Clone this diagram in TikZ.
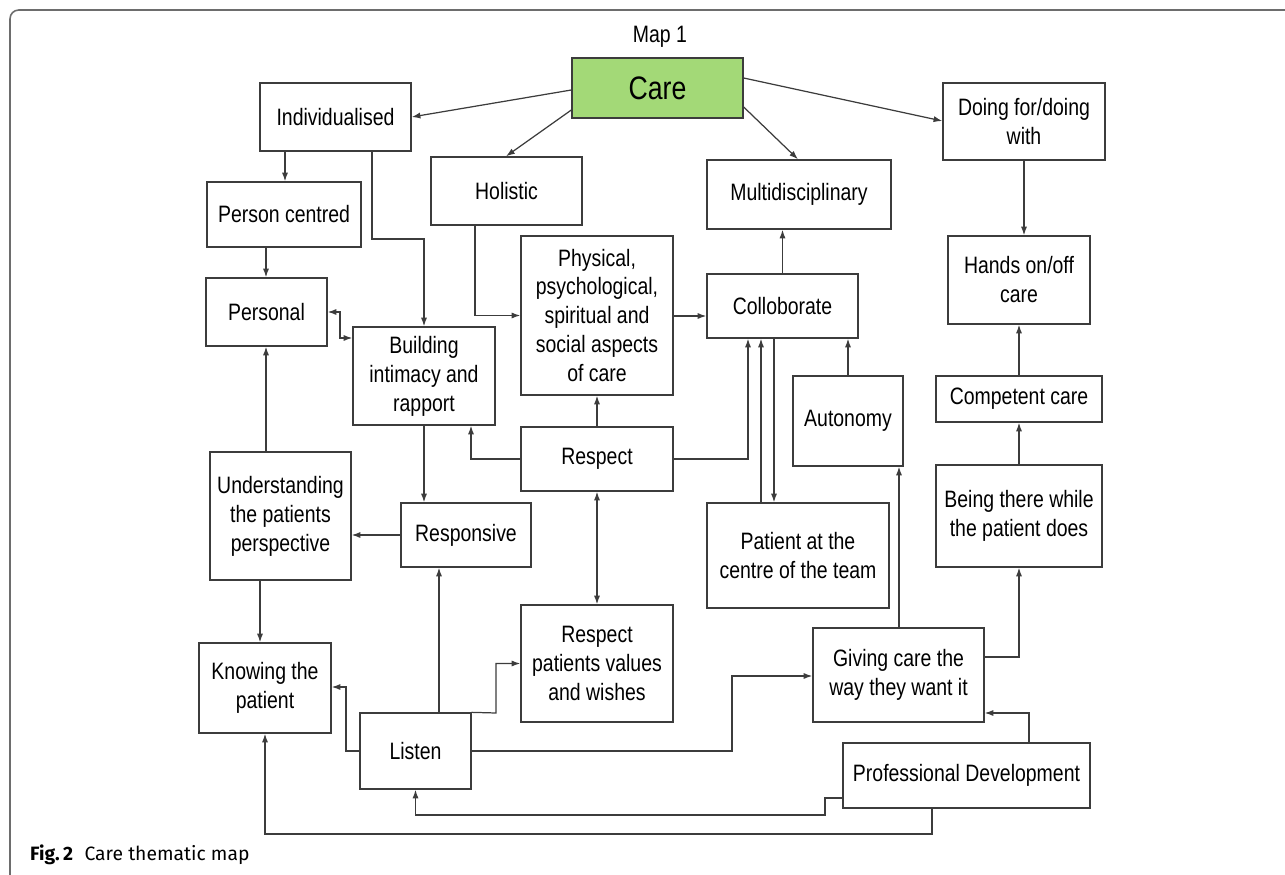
\documentclass[tikz,border=0pt]{standalone}
\usepackage{fontspec}
\setmainfont{Liberation Sans}
\newfontfamily\mapfont[FakeStretch=0.82]{Liberation Sans}
\newfontfamily\capfont{Fira Sans}
\usetikzlibrary{positioning,arrows.meta}
\definecolor{boxline}{HTML}{3C3C3C}
\definecolor{caregreen}{HTML}{A3D977}
\tikzset{%
  box/.style={draw=boxline,line width=0.75pt,inner sep=0pt,align=center,
    font=\mapfont\fontsize{13.5}{16.5}\selectfont},
  sz/.style 2 args={minimum width=#1*0.02cm,minimum height=#2*0.02cm},
  link/.style={draw=boxline,line width=0.7pt,-{Latex[length=5pt,width=3.5pt]}},
  twoway/.style={draw=boxline,line width=0.7pt,
    {Latex[length=5pt,width=3.5pt]}-{Latex[length=5pt,width=3.5pt]}}
}
\begin{document}
\begin{tikzpicture}[x=0.02cm,y=-0.02cm]

    \useasboundingbox (0,0) rectangle (1285,875);
    \draw[boxline!75,line width=0.9pt,rounded corners=5pt] (10,875) -- (10,10) -- (1285,10); % Frame

    \node[font=\mapfont\fontsize{13.5}{16}\selectfont] (title) at (660,37) {Map 1};

    % Boxes
    \node[box,fill=caregreen,font=\mapfont\fontsize{18.5}{20}\selectfont,sz={171}{60}] (care) at (657.5,88) {Care};
    \node[box,sz={151}{68}] (indiv) at (335.5,117) {Individualised};
    \node[box,sz={154}{65}] (pcent) at (284,214.5) {Person centred};
    \node[box,sz={151}{68}] (holis) at (506.5,191) {Holistic};
    \node[box,sz={184}{69}] (multi) at (799,194.5) {Multidisciplinary};
    \node[box,sz={162}{77}] (doing) at (1024,121.5) {Doing for/doing\\with};
    \node[box,sz={142}{88}] (hands) at (1019,280) {Hands on/off\\care};
    \node[box,sz={121}{68}] (perso) at (266.5,312) {Personal};
    \node[box,sz={142}{98}] (build) at (424,376) {Building\\intimacy and\\rapport};
    \node[box,sz={152}{159}] (phys) at (597,315.5) {Physical,\\psychological,\\spiritual and\\social aspects\\of care};
    \node[box,sz={151}{64}] (colla) at (782.5,306) {Colloborate};
    \node[box,sz={110}{90}] (auton) at (848,421) {Autonomy};
    \node[box,sz={166}{46}] (compe) at (1019,399) {Competent care};
    \node[box,sz={152}{64}] (respe) at (597,459) {Respect};
    \node[box,sz={141}{128}] (under) at (280.5,516) {Understanding\\the patients\\perspective};
    \node[box,sz={130}{64}] (respo) at (466,535) {Responsive};
    \node[box,sz={182}{105}] (patie) at (798,555.5) {Patient at the\\centre of the team};
    \node[box,sz={166}{102}] (being) at (1019,516) {Being there while\\the patient does};
    \node[box,sz={152}{117}] (value) at (597,663.5) {Respect\\patients values\\and wishes};
    \node[box,sz={171}{94}] (givin) at (898.5,675) {Giving care the\\way they want it};
    \node[box,sz={132}{90}] (know) at (265,688) {Knowing the\\patient};
    \node[box,sz={111}{76}] (liste) at (415.5,751) {Listen};
    \node[box,sz={247}{65}] (profd) at (966.5,775.5) {Professional Development};

    % From Care
    \draw[link] (care.west |- 0,90) -- (indiv.east |- 0,117);
    \draw[link] (care.west |- 0,110) -- (holis.north -| 506,0);
    \draw[link] (care.east |- 0,107) -- (multi.north -| 798,0);
    \draw[link] (care.east |- 0,78) -- (doing.west |- 0,121);

    % Left column
    \draw[link] (indiv.south -| 285,0) -- (pcent.north -| 285,0);
    \draw[link] (pcent.south -| 266,0) -- (perso.north -| 266,0);
    \draw[link] (indiv.south -| 372,0) -- (372,239) -| (build.north);
    \draw[twoway] (perso.east |- 0,312) -| (340,338) -- (build.west |- 0,338);
    \draw[link] (build.south) -- (respo.north -| build.south);
    \draw[link] (respo.west) -- (under.east |- respo.west);
    \draw[link] (under.north -| 266,0) -- (perso.south -| 266,0);
    \draw[link] (under.south -| 260,0) -- (know.north -| 260,0);

    % Middle
    \draw[link] (holis.south -| 475,0) |- (phys.west);
    \draw[link] (phys.east |- 0,316) -- (colla.west |- 0,316);
    \draw[link] (colla.north) -- (multi.south -| colla.north);
    \draw[link] (respe.west) -| (build.south -| 471,0);
    \draw[link] (respe.north) -- (phys.south);
    \draw[link] (respe.east) -| (colla.south -| 748,0);
    \draw[twoway] (respe.south) -- (value.north);
    \draw[link] (patie.north -| 761,0) -- (colla.south -| 761,0);
    \draw[link] (colla.south -| 774,0) -- (patie.north -| 774,0);
    \draw[link] (auton.north -| 848,0) -- (colla.south -| 848,0);

    % From Listen
    \draw[link] (liste.west) -| (346,687) -- (know.east |- 0,687);
    \draw[link] (liste.north -| 439,0) -- (respo.south -| 439,0);
    \draw[link] (liste.north east) -- (496,713) |- (value.west);
    \draw[link] (liste.east) -| (732,676) -- (givin.west |- 0,676);

    % Right column
    \draw[link] (doing.south -| 1024,0) -- (hands.north -| 1024,0);
    \draw[link] (givin.north -| 899,0) -- (auton.south -| 899,0);
    \draw[link] (givin.east |- 0,657) -| (being.south);
    \draw[link] (being.north) -- (compe.south);
    \draw[link] (compe.north) -- (hands.south -| compe.north);

    % From Professional Development
    \draw[link] (profd.north -| 1029,0) |- (givin.east |- 0,713);
    \draw[link] (profd.west |- 0,798) -| (825,815) -| (liste.south);
    \draw[link] (profd.south -| 932,0) -- (932,834) -| (know.south);

    \node[anchor=base west,font=\capfont\fontsize{11}{13}\selectfont] (caption) at (24,860)
        {\textbf{Fig.\,2}\hspace{0.6em}Care thematic map};

\end{tikzpicture}
\end{document}
